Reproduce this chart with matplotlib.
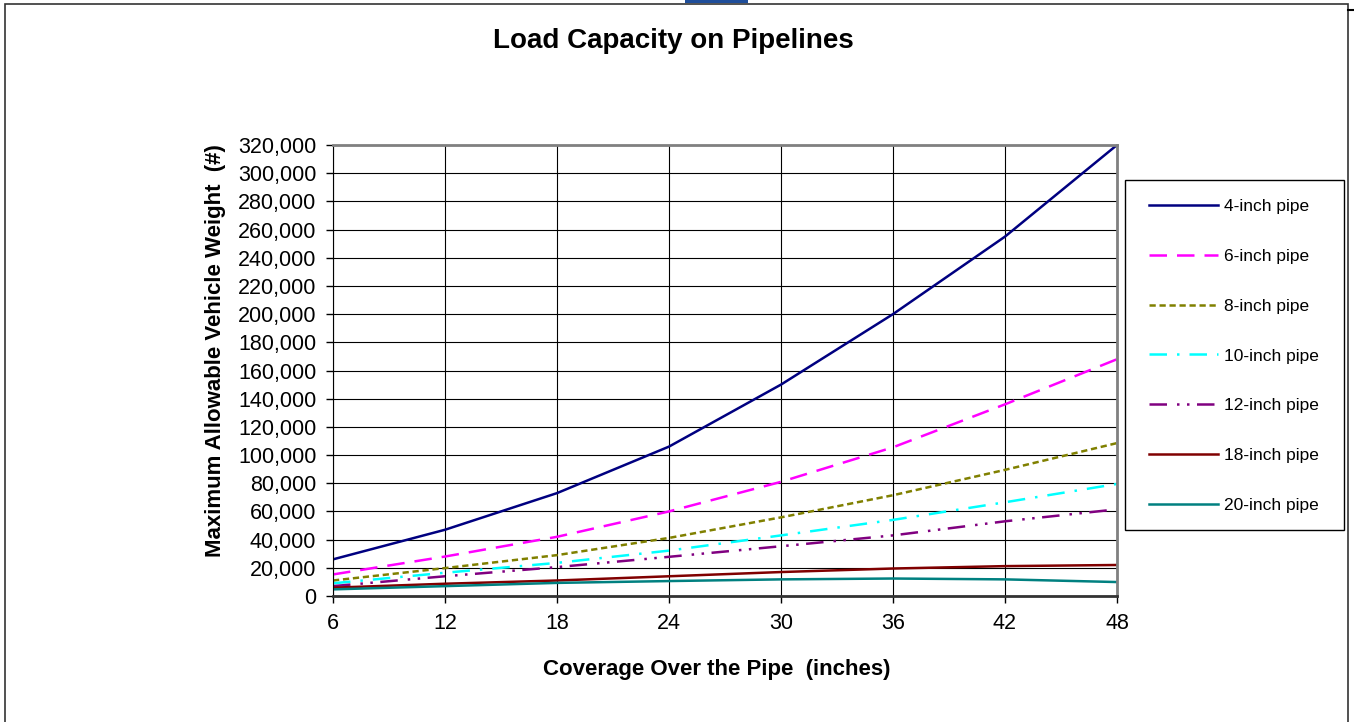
import matplotlib
matplotlib.use("Agg")
import matplotlib.pyplot as plt
from matplotlib.patches import Rectangle
from matplotlib.lines import Line2D
from matplotlib.ticker import FuncFormatter, MultipleLocator

plt.rcParams['font.family'] = ['Liberation Sans', 'DejaVu Sans']

# coverage over the pipe (inches)
coverage = [6, 12, 18, 24, 30, 36, 42, 48]

# maximum allowable vehicle weight (#) per pipe size
pipe_4 = [26000, 47000, 73000, 106000, 150000, 200000, 255000, 320000]
pipe_6 = [15300, 28000, 42000, 60000, 81000, 105500, 136000, 168000]
pipe_8 = [11000, 19800, 29000, 41200, 55800, 71500, 89500, 108500]
pipe_10 = [9000, 16500, 23500, 32200, 43000, 54000, 66500, 79500]
pipe_12 = [7000, 14000, 20500, 27800, 35300, 43000, 53000, 61500]
pipe_18 = [5900, 8700, 11000, 14000, 17000, 19500, 21200, 22000]
pipe_20 = [4700, 7000, 9300, 10600, 11800, 12400, 11800, 9900]

labels = ['4-inch pipe', '6-inch pipe', '8-inch pipe', '10-inch pipe',
          '12-inch pipe', '18-inch pipe', '20-inch pipe']
series = [pipe_4, pipe_6, pipe_8, pipe_10, pipe_12, pipe_18, pipe_20]
colors = ['#000080', '#FF00FF', '#808000', '#00FFFF', '#800080', '#800000', '#008080']
styles = ['-', (0, (7, 4)), (0, (2.5, 1.5)), (0, (7, 4, 1, 4)),
          (0, (7, 4, 1, 3, 1, 3)), '-', '-']

W, H = 1354, 722
fig = plt.figure(figsize=(W / 100, H / 100), dpi=100)
ax = fig.add_axes([333 / W, 1 - 596 / H, 784 / W, 451 / H])

for vals, lab, col, ls in zip(series, labels, colors, styles):
    ax.plot(coverage, vals, color=col, linestyle=ls, linewidth=1.8, label=lab)

ax.set_xlim(6, 48)
ax.set_ylim(0, 320000)
ax.set_xticks(coverage)
ax.yaxis.set_major_locator(MultipleLocator(20000))
ax.yaxis.set_major_formatter(FuncFormatter(lambda v, p: f'{int(v):,}'))
ax.grid(True, color='black', linewidth=0.8)
ax.set_axisbelow(True)

for side in ['top', 'right']:
    ax.spines[side].set_color('#808080')
    ax.spines[side].set_linewidth(2)
ax.spines['left'].set_color('black')
ax.spines['bottom'].set_color('#333333')
ax.spines['bottom'].set_linewidth(2)
ax.tick_params(axis='both', direction='out', length=5, width=1,
               labelsize=15.5, pad=7)

ax.set_xlabel('Coverage Over the Pipe  (inches)', fontsize=16, fontweight='bold')
ax.xaxis.set_label_coords((717 - 333) / 784, -(669 - 596) / 451)
ax.xaxis.label.set_va('center')
ax.set_ylabel('Maximum Allowable Vehicle Weight  (#)', fontsize=16,
              fontweight='bold')
ax.yaxis.set_label_coords(-(333 - 216) / 784, (596 - 351) / 451)
ax.yaxis.label.set_va('center')
fig.text(673 / W, 1 - 41 / H, 'Load Capacity on Pipelines', fontsize=20,
         fontweight='bold', ha='center', va='center')

# legend entries without a frame, the box is drawn separately below
leg = fig.legend(loc='center', bbox_to_anchor=(1133 / W, 1 - 531 / H,
                                               211 / W, 350 / H),
                 fontsize=12.5, labelspacing=2.0, handlelength=4.0,
                 handletextpad=0.35, frameon=False,
                 borderpad=0.9, borderaxespad=0, mode='expand')
fig.patches.append(Rectangle((1125 / W, 1 - 530 / H), 219 / W, 350 / H,
                             transform=fig.transFigure, fill=False,
                             edgecolor='black', linewidth=1))

# outer chart-area border, cut off at the bottom of the picture
fig.patches.append(Rectangle((5 / W, -0.02), 1343 / W, 1.02 - 4 / H,
                             transform=fig.transFigure, fill=False,
                             edgecolor='#333333', linewidth=1.2))
fig.lines.append(Line2D([1348 / W, 1.0], [1 - 10 / H, 1 - 10 / H],
                        transform=fig.transFigure, color='black', linewidth=1.5))
# edge of a logo peeking in at the top
fig.patches.append(Rectangle((685 / W, 1 - 3 / H), 63 / W, 3 / H,
                             transform=fig.transFigure, color='#1F4E9A',
                             linewidth=0))

fig.savefig('out.png', dpi=100)
